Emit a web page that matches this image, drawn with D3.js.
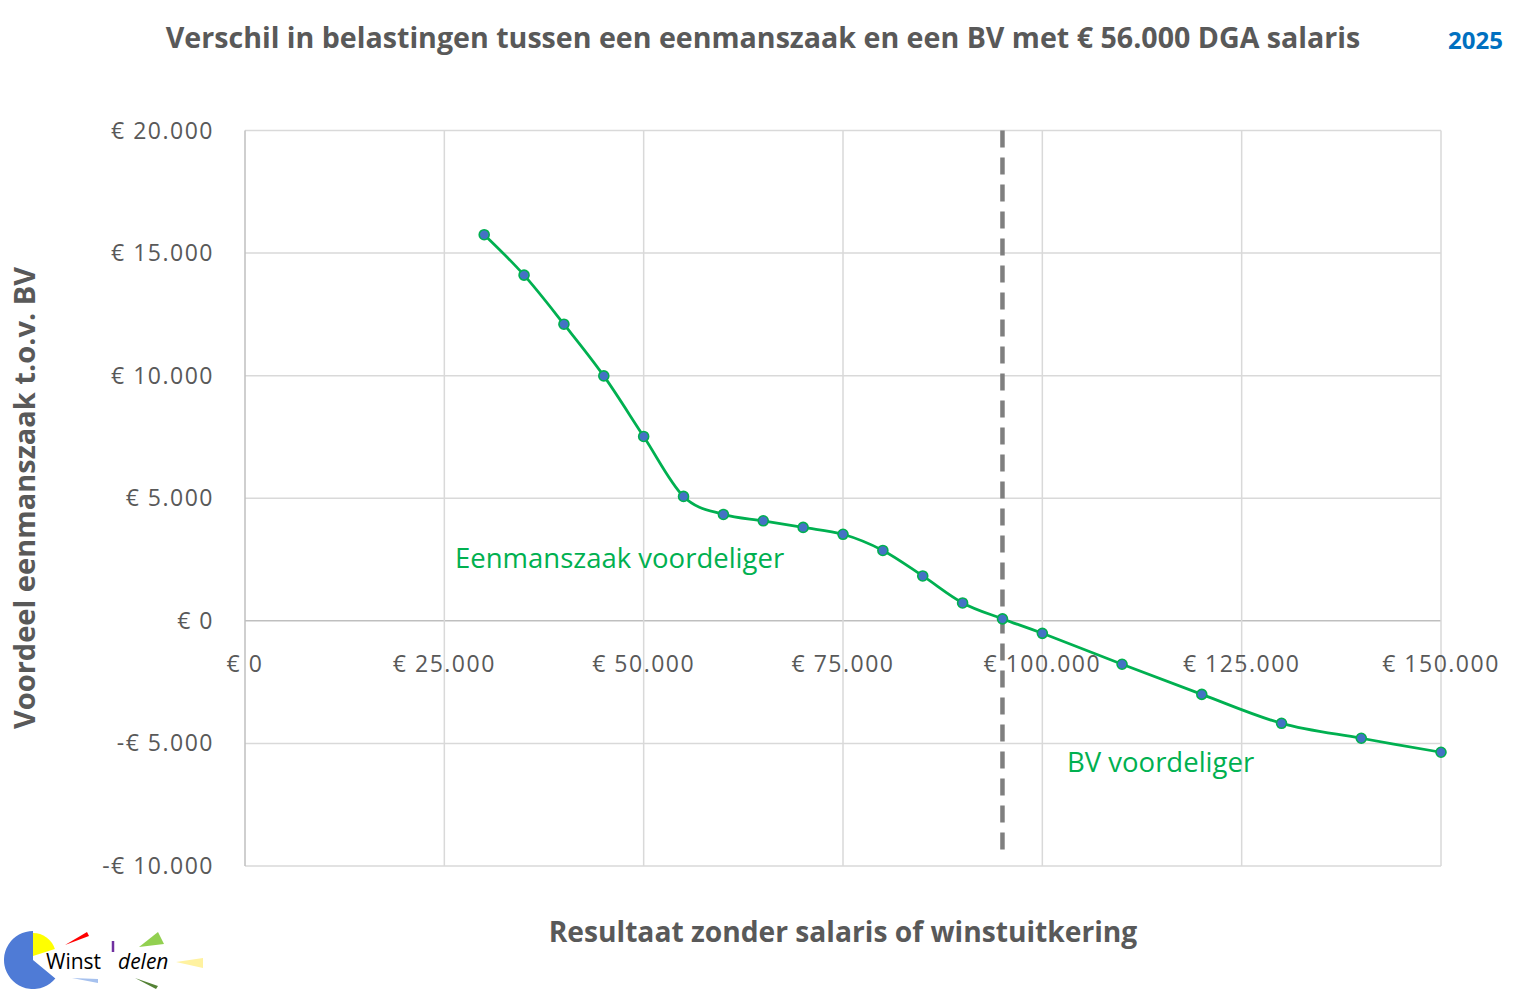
<!DOCTYPE html>
<html><head><meta charset="utf-8">
<script src="https://cdn.jsdelivr.net/npm/d3@7"></script>
<style>body{margin:0;background:#fff;} text{font-family:"Open Sans",Lato,sans-serif;}</style>
</head><body>
<svg id="c" width="1525" height="995"></svg>
<script>
const xValues = [30000,35000,40000,45000,50000,55000,60000,65000,70000,75000,80000,85000,90000,95000,100000,110000,120000,130000,140000,150000];
const yValues = [15750,14100,12100,9990,7520,5075,4340,4080,3810,3530,2870,1830,730,80,-510,-1770,-3000,-4180,-4790,-5360];
const xTicks = [0,25000,50000,75000,100000,125000,150000];
const yTicks = [20000,15000,10000,5000,0,-5000,-10000];
const breakEven = 95000;
const title = "Verschil in belastingen tussen een eenmanszaak en een BV met € 56.000 DGA salaris";
const yearLabel = "2025";
const xTitle = "Resultaat zonder salaris of winstuitkering";
const yTitle = "Voordeel eenmanszaak t.o.v. BV";

const fmt = v => (v < 0 ? "-€ " : "€ ") + d3.format(",")(Math.abs(v)).replace(/,/g, ".");

const svg = d3.select("#c");
const x = d3.scaleLinear().domain([0,150000]).range([245,1441]);
const y = d3.scaleLinear().domain([-10000,20000]).range([866,130.5]);

// gridlines
svg.append("g").selectAll("line").data(yTicks).join("line")
  .attr("x1", x(0)).attr("x2", x(150000))
  .attr("y1", d => y(d)).attr("y2", d => y(d))
  .attr("stroke", d => d === 0 ? "#bfbfbf" : "#d9d9d9").attr("stroke-width", 1.5);
svg.append("g").selectAll("line").data(xTicks).join("line")
  .attr("x1", d => x(d)).attr("x2", d => x(d))
  .attr("y1", y(20000)).attr("y2", y(-10000))
  .attr("stroke", d => d === 0 ? "#bfbfbf" : "#d9d9d9").attr("stroke-width", 1.5);

// y tick labels
svg.append("g").selectAll("text").data(yTicks).join("text")
  .attr("x", 214).attr("y", d => y(d) + 8).attr("text-anchor", "end")
  .attr("font-size", 23).attr("letter-spacing", 1.5).attr("fill", "#595959").text(fmt);
// x tick labels
svg.append("g").selectAll("text").data(xTicks).join("text")
  .attr("x", d => x(d)).attr("y", y(0) + 51).attr("text-anchor", "middle")
  .attr("font-size", 23).attr("letter-spacing", 1.5).attr("fill", "#595959").text(fmt);

// dashed break-even line
svg.append("line").attr("x1", x(breakEven)).attr("x2", x(breakEven))
  .attr("y1", y(20000)).attr("y2", 858)
  .attr("stroke", "#7f7f7f").attr("stroke-width", 4.5).attr("stroke-dasharray", "17,10");

// series line
const pts = xValues.map((v,i) => [v, yValues[i]]);
svg.append("path").datum(pts)
  .attr("d", d3.line().x(d => x(d[0])).y(d => y(d[1])).curve(d3.curveCatmullRom.alpha(0)))
  .attr("fill", "none").attr("stroke", "#00b050").attr("stroke-width", 2.75);
svg.append("g").selectAll("circle").data(pts).join("circle")
  .attr("cx", d => x(d[0])).attr("cy", d => y(d[1])).attr("r", 5)
  .attr("fill", "#4472c4").attr("stroke", "#00b050").attr("stroke-width", 1.6);

// annotations
svg.append("text").attr("x", 455).attr("y", 568).attr("font-size", 27.5).attr("fill", "#00b050").text("Eenmanszaak voordeliger");
svg.append("text").attr("x", 1067).attr("y", 772).attr("font-size", 27.5).attr("fill", "#00b050").text("BV voordeliger");

// titles
svg.append("text").attr("x", 763).attr("y", 48).attr("text-anchor", "middle").attr("font-size", 28.6)
  .attr("font-weight", "bold").attr("fill", "#595959").text(title);
svg.append("text").attr("x", 1503).attr("y", 49).attr("text-anchor", "end").attr("font-size", 24)
  .attr("font-weight", "bold").attr("fill", "#0070c0").text(yearLabel);
svg.append("text").attr("x", 843).attr("y", 942).attr("text-anchor", "middle").attr("font-size", 28.2)
  .attr("font-weight", "bold").attr("fill", "#595959").text(xTitle);
svg.append("text").attr("transform", "translate(35,498) rotate(-90)").attr("text-anchor", "middle").attr("font-size", 29)
  .attr("font-weight", "bold").attr("fill", "#595959").text(yTitle);

// logo
const logo = svg.append("g").attr("transform", "translate(0,920)");
const arc = d3.arc();
logo.append("path").attr("transform", "translate(33,40)")
  .attr("d", arc({innerRadius:0, outerRadius:29, startAngle:Math.PI*0.72, endAngle:Math.PI*2}))
  .attr("fill", "#4f7bd6");
logo.append("path").attr("transform", "translate(33,36)")
  .attr("d", arc({innerRadius:0, outerRadius:23, startAngle:0, endAngle:Math.PI*0.4}))
  .attr("fill", "#ffff00");
logo.append("polygon").attr("points", "65,25 87,12 89,16").attr("fill", "#ff0000");
logo.append("line").attr("x1",113).attr("y1",21).attr("x2",113).attr("y2",32).attr("stroke","#7030a0").attr("stroke-width",2.5);
logo.append("polygon").attr("points", "139,27 158,12 164,24").attr("fill", "#92d050");
logo.append("polygon").attr("points", "176,42 203,38 203,48").attr("fill", "#fff2a0");
logo.append("polygon").attr("points", "72,58 98,59 98,63").attr("fill", "#a6c1ee");
logo.append("polygon").attr("points", "135,58 158,66 156,69").attr("fill", "#548235");
logo.append("text").attr("x", 46).attr("y", 49).attr("font-size", 21).attr("fill", "#000").text("Winst");
logo.append("text").attr("x", 118).attr("y", 49).attr("font-size", 21).attr("font-style", "italic").attr("fill", "#000").text("delen");
</script>
</body></html>
